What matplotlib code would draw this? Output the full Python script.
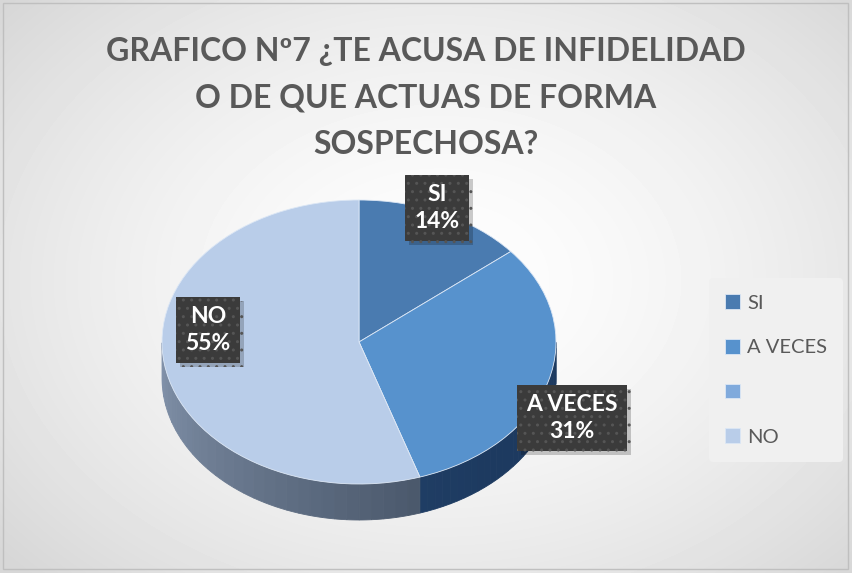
import numpy as np
import matplotlib
matplotlib.use("Agg")
import matplotlib.pyplot as plt
import matplotlib.patheffects as pe
from matplotlib.patches import Polygon, Rectangle

# ===== DATA =====
categories = ["SI", "A VECES", "", "NO"]
values = [14, 31, 0, 55]
top_colors = ["#4a7bb0", "#5792cd", "#80aadc", "#b9cde9"]
side_dark = ["#2c4f7a", "#1d3a60", "#3a5f90", "#3e4b5e"]
side_light = ["#3d6595", "#2a4c78", "#5a80b0", "#8393ab"]
title = "GRAFICO Nº7 ¿TE ACUSA DE INFIDELIDAD\nO DE QUE ACTUAS DE FORMA\nSOSPECHOSA?"

W, H = 852, 573
plt.rcParams["font.family"] = ["Lato", "DejaVu Sans"]

fig = plt.figure(figsize=(W / 100, H / 100), dpi=100)

# ===== BACKGROUND =====
bg = fig.add_axes([0, 0, 1, 1])
yy, xx = np.mgrid[0:H, 0:W]
r = np.sqrt(((xx - 440) / 520) ** 2 + ((yy - 280) / 380) ** 2)
shade = np.clip(0.995 - 0.13 * r ** 1.6, 0.84, 1.0)
bg.imshow(shade, cmap="gray", vmin=0, vmax=1, extent=[0, W, H, 0], aspect="auto")
bg.set_xlim(0, W)
bg.set_ylim(H, 0)
bg.add_patch(Rectangle((3, 3), W - 7, H - 7, fill=False, ec="#bfbfbf", lw=1))
bg.axis("off")

fig.text(0.5, 1 - 98 / H, title, ha="center", va="center", fontsize=23,
         fontweight="bold", color="#595959", linespacing=1.72)

# ===== PIE (tilted) =====
cx, cy, rx, ry, depth = 359, 342, 197, 142, 36
ax = fig.add_axes([(cx - rx) / W, (H - cy - ry) / H, 2 * rx / W, 2 * ry / H])
d = depth / ry

fr = np.array(values, dtype=float) / sum(values)
starts = 90 - 360 * np.concatenate([[0], np.cumsum(fr)[:-1]])
ends = starts - 360 * fr

# side band, front half only
for i in range(len(values)):
    if fr[i] == 0:
        continue
    seg = np.linspace(ends[i], starts[i], 400) % 360
    vis = np.sort(seg[(seg >= 180) & (seg <= 360)])
    if len(vis) < 2:
        continue
    n = 30
    edges = np.linspace(vis[0], vis[-1], n + 1)
    c1 = np.array(matplotlib.colors.to_rgb(side_light[i]))
    c2 = np.array(matplotlib.colors.to_rgb(side_dark[i]))
    for k in range(n):
        t = np.radians(np.linspace(edges[k], edges[k + 1], 6))
        pts = np.vstack([np.c_[np.cos(t), np.sin(t)],
                         np.c_[np.cos(t[::-1]), np.sin(t[::-1]) - d]])
        f = (edges[k] - 180) / 180
        col = c1 + (c2 - c1) * min(1, f * 1.4)
        ax.add_patch(Polygon(pts, closed=True, fc=col, ec=col, lw=0.6, clip_on=False))

wedges, _ = ax.pie(values, colors=top_colors, startangle=90, counterclock=False,
                   wedgeprops=dict(linewidth=0.6, edgecolor="#dce7f5"))
for w in wedges:
    w.set_clip_on(False)
ax.set_aspect("auto")
ax.set_xlim(-1, 1)
ax.set_ylim(-1, 1)
ax.axis("off")

# ===== DATA LABELS =====
label_pos = {"SI": (437, 208), "A VECES": (572, 418), "NO": (208, 330)}
for cat, v in zip(categories, values):
    if cat not in label_pos:
        continue
    x, y = label_pos[cat]
    t = fig.text(x / W, 1 - y / H, f"{cat}\n{v}%", ha="center", va="center",
                 fontsize=16.5, fontweight="bold", color="white", linespacing=1.3,
                 bbox=dict(boxstyle="square,pad=0.4", fc="#3b3b3b", ec="#555555",
                           lw=0, hatch=".."))
    t.get_bbox_patch().set_path_effects(
        [pe.SimplePatchShadow(offset=(3, -3), shadow_rgbFace="#000000", alpha=0.2),
         pe.Normal()])

# ===== LEGEND =====
leg = fig.legend(wedges, categories, loc="center", bbox_to_anchor=(776 / W, 1 - 370 / H),
                 frameon=True, fontsize=14.5, labelspacing=1.35, handlelength=0.75,
                 handleheight=0.75, handletextpad=0.35, borderpad=0.8, borderaxespad=0)
leg.get_frame().set_facecolor("#f0f0f0")
leg.get_frame().set_edgecolor("none")
leg.get_frame().set_alpha(1)
for t in leg.get_texts():
    t.set_color("#595959")

fig.savefig("out.png", dpi=100)
